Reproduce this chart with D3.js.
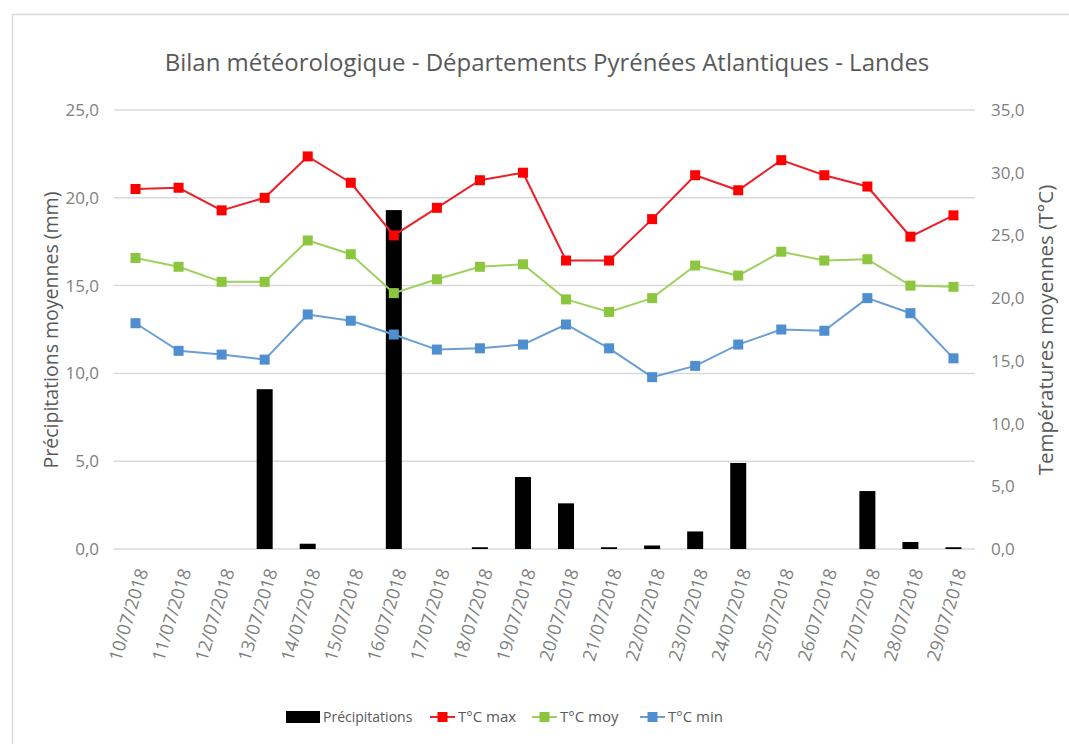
<!DOCTYPE html>
<html><head><meta charset="utf-8">
<script src="https://cdn.jsdelivr.net/npm/d3@7"></script>
<style>
body{margin:0;background:#fff;}
svg text{font-family:"Open Sans",sans-serif;}
</style></head>
<body><svg id="c" width="1069" height="744"></svg>
<script>
const dates = ["10/07/2018","11/07/2018","12/07/2018","13/07/2018","14/07/2018","15/07/2018","16/07/2018","17/07/2018","18/07/2018","19/07/2018","20/07/2018","21/07/2018","22/07/2018","23/07/2018","24/07/2018","25/07/2018","26/07/2018","27/07/2018","28/07/2018","29/07/2018"];
const precip = [0,0,0,9.1,0.3,0,19.3,0,0.1,4.1,2.6,0.1,0.2,1.0,4.9,0,0,3.3,0.4,0.1];
const tmax = [28.7,28.8,27.0,28.0,31.3,29.2,25.0,27.2,29.4,30.0,23.0,23.0,26.3,29.8,28.6,31.0,29.8,28.9,24.9,26.6];
const tmoy = [23.2,22.5,21.3,21.3,24.6,23.5,20.4,21.5,22.5,22.7,19.9,18.9,20.0,22.6,21.8,23.7,23.0,23.1,21.0,20.9];
const tmin = [18.0,15.8,15.5,15.1,18.7,18.2,17.1,15.9,16.0,16.3,17.9,16.0,13.7,14.6,16.3,17.5,17.4,20.0,18.8,15.2];
const leftTicks = [0,5,10,15,20,25];
const rightTicks = [0,5,10,15,20,25,30,35];

const svg = d3.select("#c");
const L=114, R=975, T=110, B=549;
const fmt = v => d3.format(".1f")(v).replace(".", ",");
const grey = "#595959";

// border
svg.append("rect").attr("x",12.5).attr("y",14.5).attr("width",1080).attr("height",760)
  .attr("fill","none").attr("stroke","#d9d9d9").attr("stroke-width",1.5);

svg.append("text").attr("x",547).attr("y",71).attr("text-anchor","middle")
  .attr("font-size",24).attr("fill",grey)
  .text("Bilan météorologique - Départements Pyrénées Atlantiques - Landes");

const x = d3.scaleBand().domain(dates).range([L,R]);
const yL = d3.scaleLinear().domain([0,25]).range([B,T]);
const yR = d3.scaleLinear().domain([0,35]).range([B,T]);

// gridlines
svg.append("g").selectAll("line").data(leftTicks).join("line")
  .attr("x1",L).attr("x2",R).attr("y1",d=>yL(d)).attr("y2",d=>yL(d))
  .attr("stroke","#d9d9d9").attr("stroke-width",1.5);

// left axis
const axL = svg.append("g").attr("transform",`translate(${L},0)`)
  .call(d3.axisLeft(yL).tickValues(leftTicks).tickFormat(fmt).tickSize(0).tickPadding(15));
axL.select(".domain").remove();
axL.selectAll("text").attr("font-size",17).attr("fill","#7f7f7f");

const axR = svg.append("g").attr("transform",`translate(${R},0)`)
  .call(d3.axisRight(yR).tickValues(rightTicks).tickFormat(fmt).tickSize(0).tickPadding(16));
axR.select(".domain").remove();
axR.selectAll("text").attr("font-size",17).attr("fill","#7f7f7f");

// x axis labels
const axX = svg.append("g").attr("transform",`translate(0,${B})`)
  .call(d3.axisBottom(x).tickSize(0).tickPadding(0));
axX.select(".domain").remove();
axX.selectAll("text").attr("font-size",18).attr("fill","#7f7f7f")
  .attr("text-anchor","end").attr("dy","0.35em")
  .attr("transform","translate(7,20) rotate(-73)");

// axis titles
svg.append("text").attr("transform","translate(58,330) rotate(-90)").attr("text-anchor","middle")
  .attr("font-size",19.5).attr("fill",grey).text("Précipitations moyennes (mm)");
svg.append("text").attr("transform","translate(1053,330) rotate(-90)").attr("text-anchor","middle")
  .attr("font-size",20.5).attr("fill",grey).text("Températures moyennes (T°C)");

// bars
const bw = 16;
svg.append("g").selectAll("rect").data(precip).join("rect")
  .attr("x",(d,i)=>x(dates[i])+x.bandwidth()/2-bw/2).attr("width",bw)
  .attr("y",d=>yL(d)).attr("height",d=>B-yL(d)).attr("fill","#000");

const series = [
  {name:"T°C max", vals:tmax, color:"#ff0000", line:"#e8212a"},
  {name:"T°C moy", vals:tmoy, color:"#8cc63f", line:"#9fd060"},
  {name:"T°C min", vals:tmin, color:"#4f8fd0", line:"#6a9fd6"}
];
const cx = i => x(dates[i])+x.bandwidth()/2;
series.forEach(s=>{
  svg.append("path").datum(s.vals)
    .attr("d",d3.line().x((d,i)=>cx(i)).y(d=>yR(d)))
    .attr("fill","none").attr("stroke",s.line).attr("stroke-width",2);
  svg.append("g").selectAll("rect").data(s.vals).join("rect")
    .attr("x",(d,i)=>cx(i)-5).attr("y",d=>yR(d)-5).attr("width",10).attr("height",10)
    .attr("fill",s.color);
});

// legend
const lg = svg.append("g");
lg.append("rect").attr("x",286).attr("y",711).attr("width",34).attr("height",12).attr("fill","#000");
lg.append("text").attr("x",323).attr("y",722).attr("font-size",14).attr("fill",grey).text("Précipitations");
const lx = [430,532,640];
series.forEach((s,i)=>{
  lg.append("line").attr("x1",lx[i]).attr("x2",lx[i]+25).attr("y1",717).attr("y2",717)
    .attr("stroke",s.line).attr("stroke-width",2);
  lg.append("rect").attr("x",lx[i]+7.5).attr("y",712).attr("width",10).attr("height",10).attr("fill",s.color);
  lg.append("text").attr("x",lx[i]+28).attr("y",722).attr("font-size",15).attr("fill",grey).text(s.name);
});
</script></body></html>
